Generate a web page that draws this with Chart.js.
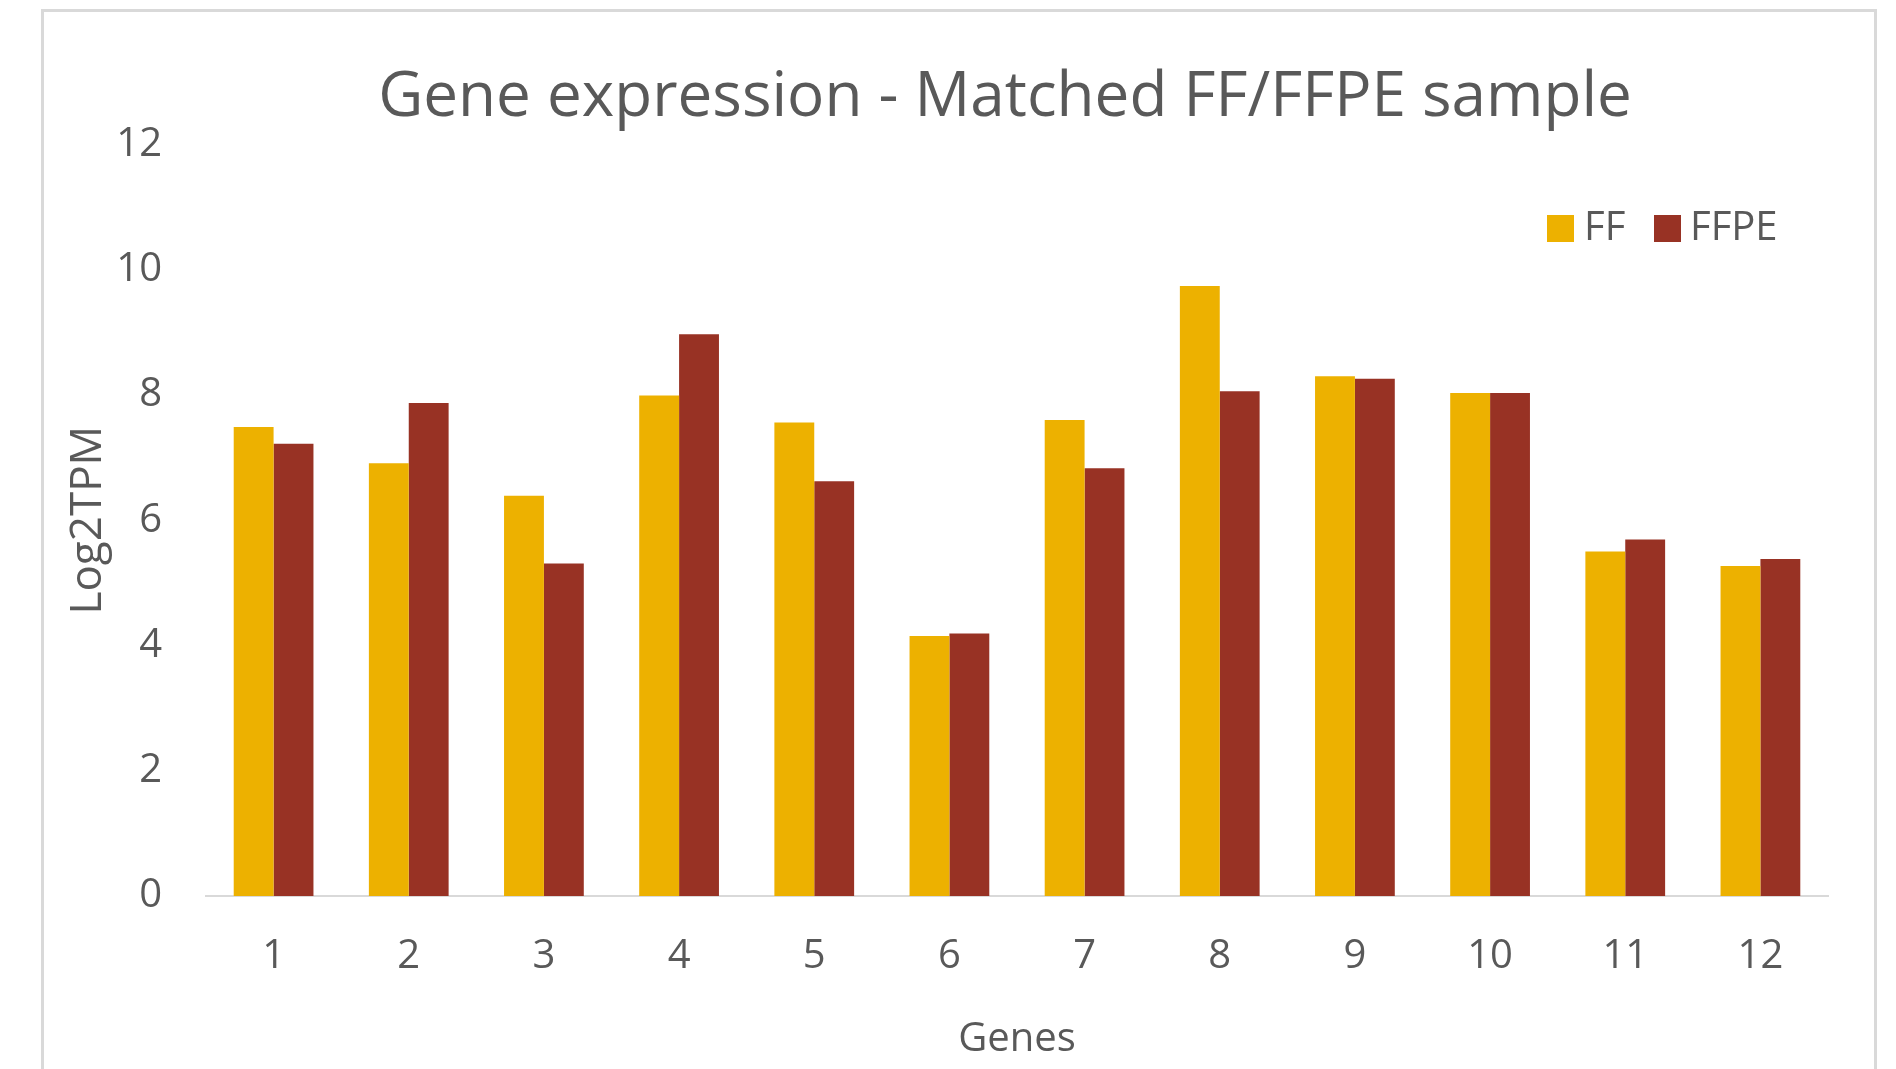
<!DOCTYPE html>
<html>
<head>
<meta charset="utf-8">
<title>Gene expression - Matched FF/FFPE sample</title>
<script src="https://cdn.jsdelivr.net/npm/chart.js@4.4.1/dist/chart.umd.min.js"></script>
<style>
  html, body { margin: 0; padding: 0; background: #ffffff; overflow: hidden; }
  #frame {
    position: absolute; left: 41px; top: 9px; width: 1836px; height: 1120px;
    border: 3px solid #d9d9d9; box-sizing: border-box;
  }
  #wrap { position: absolute; left: 0; top: 0; width: 1896px; height: 1069px; }
</style>
</head>
<body>
<div id="frame"></div>
<div id="wrap"><canvas id="chart" width="1896" height="1069"></canvas></div>
<script>
// Genes on the x axis
const genes = ['1', '2', '3', '4', '5', '6', '7', '8', '9', '10', '11', '12'];
// Log2 TPM per gene, fresh-frozen sample
const ffValues = [7.49, 6.91, 6.39, 7.99, 7.56, 4.15, 7.60, 9.74, 8.30, 8.03, 5.50, 5.27];
// Log2 TPM per gene, FFPE sample
const ffpeValues = [7.22, 7.87, 5.31, 8.97, 6.62, 4.19, 6.83, 8.06, 8.26, 8.03, 5.69, 5.38];
// Y axis tick values
const yTicks = [0, 2, 4, 6, 8, 10, 12];

const textColor = '#595959';
const fontFamily = '"Open Sans", "Noto Sans", sans-serif';

// Legend drawn inside the plot area, top right
const insideLegend = {
  id: 'insideLegend',
  afterLayout(chart) {
    // centre the title a little left of the plot-area centre
    if (chart.titleBlock) chart.titleBlock.left -= 24;
  },
  afterDraw(chart) {
    const ctx = chart.ctx;
    const items = [
      { x: 1547, textX: 1584 },
      { x: 1654, textX: 1690 }
    ];
    ctx.save();
    ctx.font = '40px ' + fontFamily;
    ctx.textBaseline = 'middle';
    chart.data.datasets.forEach((ds, i) => {
      const it = items[i];
      ctx.fillStyle = ds.backgroundColor;
      ctx.fillRect(it.x, 215, 27, 27);
      ctx.fillStyle = textColor;
      ctx.fillText(ds.label, it.textX, 229);
    });
    ctx.restore();
  }
};

new Chart(document.getElementById('chart'), {
  type: 'bar',
  data: {
    labels: genes,
    datasets: [
      { label: 'FF', data: ffValues, backgroundColor: '#EDB100', categoryPercentage: 0.59, barPercentage: 1.0 },
      { label: 'FFPE', data: ffpeValues, backgroundColor: '#983224', categoryPercentage: 0.59, barPercentage: 1.0 }
    ]
  },
  options: {
    responsive: false,
    animation: false,
    layout: { padding: { top: 0, right: 68, bottom: 0, left: 0 } },
    plugins: {
      legend: { display: false },
      tooltip: { enabled: false },
      title: {
        display: true,
        fullSize: false,
        text: 'Gene expression - Matched FF/FFPE sample',
        color: textColor,
        font: { family: fontFamily, size: 62, weight: 'normal' },
        padding: { top: 61, bottom: 9 }
      }
    },
    scales: {
      x: {
        grid: { display: false },
        border: { display: true, color: '#d9d9d9', width: 2 },
        ticks: { color: textColor, font: { family: fontFamily, size: 40 }, padding: 29 },
        title: {
          display: true, text: 'Genes', color: textColor,
          font: { family: fontFamily, size: 40 }, padding: { top: 14, bottom: 5 }
        },
        afterFit(scale) { scale.height = 173; }
      },
      y: {
        min: 0, max: 12,
        afterBuildTicks(scale) { scale.ticks = yTicks.map(v => ({ value: v })); },
        grid: { display: false },
        border: { display: false },
        ticks: { color: textColor, font: { family: fontFamily, size: 40 }, padding: 36 },
        title: {
          display: true, text: 'Log2TPM', color: textColor,
          font: { family: fontFamily, size: 44 }, padding: { top: 62, bottom: 0 }
        },
        afterFit(scale) { scale.width = 206; }
      }
    }
  },
  plugins: [insideLegend]
});
</script>
</body>
</html>
